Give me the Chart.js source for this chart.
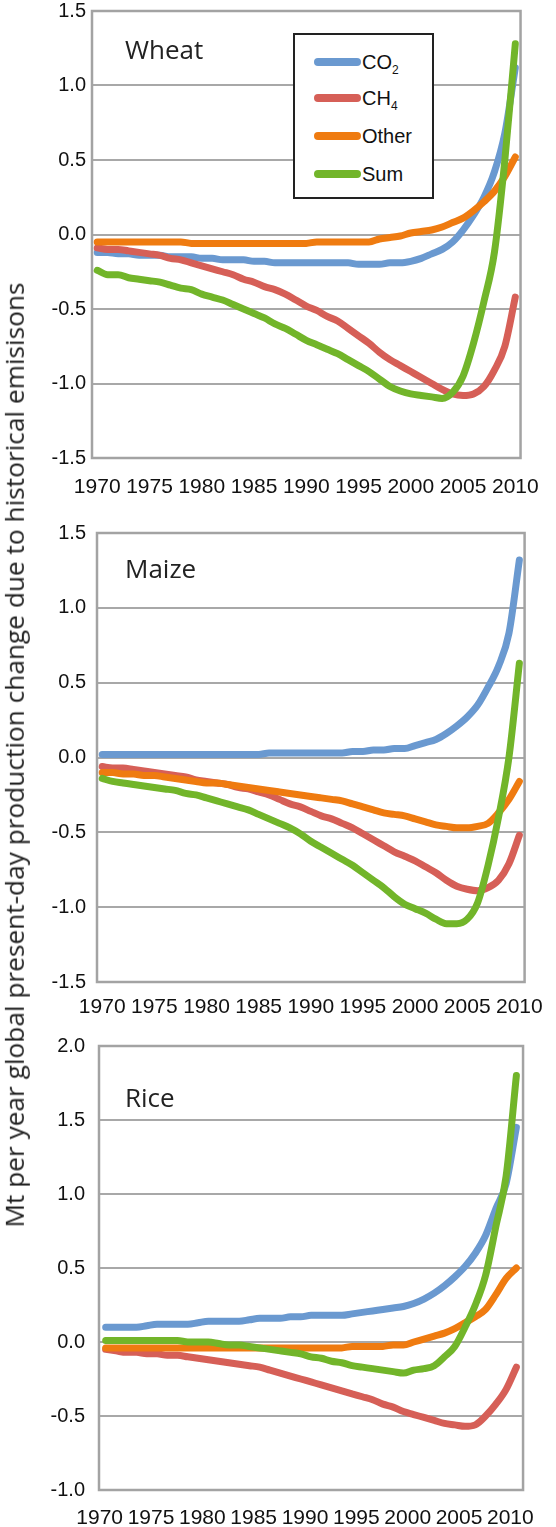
<!DOCTYPE html>
<html>
<head>
<meta charset="utf-8">
<script src="https://cdn.jsdelivr.net/npm/chart.js"></script>
<style>
  body { margin: 0; background: #fff; }
  #page { position: relative; width: 556px; height: 1527px; overflow: hidden; }
  canvas { position: absolute; left: 0; }
  .panel-title { position: absolute; left: 125px; font: 26px/26px "Open Sans", sans-serif; color: #222; white-space: nowrap; }
  #ytitle { position: absolute; left: 14px; top: 755px; font-family: "Open Sans", sans-serif; font-size: 24px; line-height: 24px;
            color: #222; white-space: nowrap; transform: translate(-50%, -50%) rotate(-90deg); }
  #legend { position: absolute; left: 293px; top: 33px; width: 137px; height: 162px; border: 2px solid #222; background: #fff; }
  #legend .swatch { position: absolute; left: 19px; width: 47px; height: 8px; border-radius: 4px; }
  #legend .label { position: absolute; left: 67px; font: 20px/24px "Liberation Sans", Arial, sans-serif; color: #111; }
  #legend sub { font-size: 12px; vertical-align: -5px; line-height: 0; }
</style>
</head>
<body>
<div id="page">
  <canvas id="wheat" width="556" height="520" style="top:-20px"></canvas>
  <canvas id="maize" width="556" height="520" style="top:500px"></canvas>
  <canvas id="rice" width="556" height="507" style="top:1020px"></canvas>

  <div class="panel-title" style="top:36px">Wheat</div>
  <div class="panel-title" style="top:555px">Maize</div>
  <div class="panel-title" style="top:1084px">Rice</div>

  <div id="ytitle">Mt per year global present-day production change due to historical emisisons</div>

  <div id="legend"></div>
</div>

<script>
const years = [1970, 1971, 1972, 1973, 1974, 1975, 1976, 1977, 1978, 1979,
               1980, 1981, 1982, 1983, 1984, 1985, 1986, 1987, 1988, 1989,
               1990, 1991, 1992, 1993, 1994, 1995, 1996, 1997, 1998, 1999,
               2000, 2001, 2002, 2003, 2004, 2005, 2006, 2007, 2008, 2009, 2010];
const xTickYears = [1970, 1975, 1980, 1985, 1990, 1995, 2000, 2005, 2010];

const seriesNames = ["CO2", "CH4", "Other", "Sum"];

// Wheat
const wheatCO2 = [-0.12, -0.12, -0.13, -0.13, -0.14, -0.14, -0.14, -0.15, -0.15, -0.15,
                  -0.16, -0.16, -0.17, -0.17, -0.17, -0.18, -0.18, -0.19, -0.19, -0.19,
                  -0.19, -0.19, -0.19, -0.19, -0.19, -0.20, -0.20, -0.20, -0.19, -0.19,
                  -0.18, -0.16, -0.13, -0.10, -0.05, 0.03, 0.13, 0.25, 0.42, 0.68, 1.12];
const wheatCH4 = [-0.09, -0.10, -0.10, -0.11, -0.12, -0.13, -0.14, -0.16, -0.17, -0.19,
                  -0.21, -0.23, -0.25, -0.27, -0.30, -0.32, -0.35, -0.37, -0.40, -0.44,
                  -0.48, -0.51, -0.55, -0.58, -0.63, -0.68, -0.73, -0.79, -0.84, -0.88,
                  -0.92, -0.96, -1.00, -1.04, -1.07, -1.08, -1.07, -1.02, -0.91, -0.75, -0.42];
const wheatOther = [-0.05, -0.05, -0.05, -0.05, -0.05, -0.05, -0.05, -0.05, -0.05, -0.06,
                    -0.06, -0.06, -0.06, -0.06, -0.06, -0.06, -0.06, -0.06, -0.06, -0.06,
                    -0.06, -0.05, -0.05, -0.05, -0.05, -0.05, -0.05, -0.03, -0.02, -0.01,
                    0.01, 0.02, 0.03, 0.05, 0.08, 0.11, 0.16, 0.22, 0.29, 0.39, 0.52];
const wheatSum = [-0.24, -0.27, -0.27, -0.29, -0.30, -0.31, -0.32, -0.34, -0.36, -0.37,
                  -0.40, -0.42, -0.44, -0.47, -0.50, -0.53, -0.56, -0.60, -0.63, -0.67,
                  -0.71, -0.74, -0.77, -0.80, -0.84, -0.88, -0.92, -0.97, -1.02, -1.05,
                  -1.07, -1.08, -1.09, -1.10, -1.06, -0.95, -0.73, -0.45, -0.12, 0.50, 1.28];

// Maize
const maizeCO2 = [0.02, 0.02, 0.02, 0.02, 0.02, 0.02, 0.02, 0.02, 0.02, 0.02,
                  0.02, 0.02, 0.02, 0.02, 0.02, 0.02, 0.03, 0.03, 0.03, 0.03,
                  0.03, 0.03, 0.03, 0.03, 0.04, 0.04, 0.05, 0.05, 0.06, 0.06,
                  0.08, 0.10, 0.12, 0.16, 0.21, 0.27, 0.35, 0.47, 0.61, 0.83, 1.32];
const maizeCH4 = [-0.06, -0.07, -0.07, -0.08, -0.09, -0.10, -0.11, -0.12, -0.13, -0.15,
                  -0.16, -0.17, -0.18, -0.20, -0.21, -0.23, -0.25, -0.28, -0.31, -0.33,
                  -0.36, -0.39, -0.41, -0.44, -0.47, -0.51, -0.55, -0.59, -0.63, -0.66,
                  -0.69, -0.73, -0.77, -0.82, -0.86, -0.88, -0.89, -0.87, -0.82, -0.71, -0.52];
const maizeOther = [-0.10, -0.10, -0.11, -0.11, -0.12, -0.12, -0.13, -0.14, -0.15, -0.16,
                    -0.17, -0.17, -0.18, -0.19, -0.20, -0.21, -0.22, -0.23, -0.24, -0.25,
                    -0.26, -0.27, -0.28, -0.29, -0.31, -0.33, -0.35, -0.37, -0.38, -0.39,
                    -0.41, -0.43, -0.45, -0.46, -0.47, -0.47, -0.46, -0.44, -0.37, -0.28, -0.16];
const maizeSum = [-0.14, -0.16, -0.17, -0.18, -0.19, -0.20, -0.21, -0.22, -0.24, -0.25,
                  -0.27, -0.29, -0.31, -0.33, -0.35, -0.38, -0.41, -0.44, -0.47, -0.51,
                  -0.56, -0.60, -0.64, -0.68, -0.72, -0.77, -0.82, -0.87, -0.93, -0.98,
                  -1.01, -1.04, -1.08, -1.11, -1.11, -1.08, -0.97, -0.72, -0.40, 0.00, 0.63];

// Rice
const riceCO2 = [0.10, 0.10, 0.10, 0.10, 0.11, 0.12, 0.12, 0.12, 0.12, 0.13,
                 0.14, 0.14, 0.14, 0.14, 0.15, 0.16, 0.16, 0.16, 0.17, 0.17,
                 0.18, 0.18, 0.18, 0.18, 0.19, 0.20, 0.21, 0.22, 0.23, 0.24,
                 0.26, 0.29, 0.33, 0.38, 0.44, 0.51, 0.60, 0.72, 0.90, 1.07, 1.45];
const riceCH4 = [-0.05, -0.06, -0.07, -0.07, -0.08, -0.08, -0.09, -0.09, -0.10, -0.11,
                 -0.12, -0.13, -0.14, -0.15, -0.16, -0.17, -0.19, -0.21, -0.23, -0.25,
                 -0.27, -0.29, -0.31, -0.33, -0.35, -0.37, -0.39, -0.42, -0.44, -0.47,
                 -0.49, -0.51, -0.53, -0.55, -0.56, -0.57, -0.56, -0.50, -0.42, -0.32, -0.17];
const riceOther = [-0.04, -0.04, -0.04, -0.04, -0.04, -0.04, -0.04, -0.04, -0.04, -0.04,
                   -0.04, -0.04, -0.04, -0.04, -0.04, -0.04, -0.04, -0.04, -0.04, -0.04,
                   -0.04, -0.04, -0.04, -0.04, -0.03, -0.03, -0.03, -0.03, -0.02, -0.02,
                   0.00, 0.02, 0.04, 0.06, 0.09, 0.13, 0.17, 0.22, 0.32, 0.43, 0.50];
const riceSum = [0.01, 0.01, 0.01, 0.01, 0.01, 0.01, 0.01, 0.01, 0.00, 0.00,
                 0.00, -0.01, -0.02, -0.02, -0.03, -0.04, -0.05, -0.06, -0.07, -0.08,
                 -0.10, -0.11, -0.13, -0.14, -0.16, -0.17, -0.18, -0.19, -0.20, -0.21,
                 -0.19, -0.18, -0.16, -0.10, -0.03, 0.10, 0.25, 0.45, 0.78, 1.12, 1.80];

const COLORS = {
  CO2: "#6a99d0",
  CH4: "#d65f57",
  Other: "#ef7b10",
  Sum: "#72b52a",
};
// draw order: Sum on top, CO2 at the bottom
const ORDER = { Sum: 0, Other: 1, CH4: 2, CO2: 3 };

const X_FONT = { family: "'Liberation Sans', Arial, sans-serif", size: 21 };
const Y_FONT = { family: "'Liberation Sans', Arial, sans-serif", size: 20 };

const framePlugin = {
  id: "frame",
  beforeDatasetsDraw(chart) {
    const { ctx, chartArea: a } = chart;
    ctx.save();
    ctx.strokeStyle = "#a3a3a3";
    ctx.lineWidth = 2.5;
    ctx.strokeRect(a.left, a.top, a.right - a.left, a.bottom - a.top);
    ctx.restore();
  },
};

function makePanel(id, values, opts) {
  const datasets = seriesNames.map((name, i) => ({
    label: name,
    data: years.map((yr, j) => ({ x: yr, y: values[i][j] })),
    borderColor: COLORS[name],
    borderWidth: 7,
    borderCapStyle: "round",
    borderJoinStyle: "round",
    pointRadius: 0,
    cubicInterpolationMode: "monotone",
    order: ORDER[name],
  }));

  return new Chart(document.getElementById(id), {
    type: "line",
    data: { datasets },
    plugins: [framePlugin],
    options: {
      responsive: false,
      animation: false,
      events: [],
      layout: { padding: { top: opts.padTop, right: opts.padRight, bottom: 0, left: 0 } },
      plugins: { legend: { display: false }, tooltip: { enabled: false } },
      scales: {
        x: {
          type: "linear",
          min: opts.xMin,
          max: opts.xMax,
          afterBuildTicks: (scale) => {
            scale.ticks = xTickYears.map((v) => ({ value: v }));
          },
          afterFit: (scale) => {
            scale.height = opts.xHeight;
          },
          grid: { display: false, drawTicks: false, tickLength: 0 },
          border: { display: false },
          ticks: {
            font: X_FONT,
            color: "#111",
            padding: opts.xPad,
            labelOffset: opts.xLabelOffset || 0,
            maxRotation: 0,
            autoSkip: false,
            callback: (v) => String(v),
          },
        },
        y: {
          min: opts.yMin,
          max: opts.yMax,
          afterFit: (scale) => {
            scale.width = opts.yWidth;
          },
          grid: { color: "#a8a8a8", lineWidth: 2, drawTicks: false, tickLength: 0 },
          border: { display: false },
          ticks: {
            stepSize: 0.5,
            font: Y_FONT,
            color: "#111",
            padding: opts.yPad,
            callback: (v) => Number(v).toFixed(1),
          },
        },
      },
    },
  });
}

makePanel("wheat", [wheatCO2, wheatCH4, wheatOther, wheatSum], {
  padTop: 31, padRight: 27, yWidth: 92, xHeight: 42, xPad: 17, yPad: 6,
  xMin: 1969.5, xMax: 2010.5, yMin: -1.5, yMax: 1.5,
});
makePanel("maize", [maizeCO2, maizeCH4, maizeOther, maizeSum], {
  padTop: 33, padRight: 22, yWidth: 97, xHeight: 38, xPad: 13, yPad: 11,
  xMin: 1969.5, xMax: 2010.5, yMin: -1.5, yMax: 1.5,
});
makePanel("rice", [riceCO2, riceCH4, riceOther, riceSum], {
  padTop: 23, padRight: 17, yWidth: 99, xHeight: 37, xPad: 16, yPad: 14,
  xMin: 1969.35, xMax: 2010.65, yMin: -1.0, yMax: 2.0, xLabelOffset: -6,
});

// legend (inside the wheat panel)
const legendRows = [
  { name: "CO2", html: "CO<sub>2</sub>", y: 27 },
  { name: "CH4", html: "CH<sub>4</sub>", y: 63 },
  { name: "Other", html: "Other", y: 101 },
  { name: "Sum", html: "Sum", y: 139 },
];
const legendEl = document.getElementById("legend");
legendRows.forEach((row) => {
  const sw = document.createElement("div");
  sw.className = "swatch";
  sw.style.top = row.y - 4 + "px";
  sw.style.background = COLORS[row.name];
  legendEl.appendChild(sw);
  const lab = document.createElement("div");
  lab.className = "label";
  lab.style.top = row.y - 12 + "px";
  lab.innerHTML = row.html;
  legendEl.appendChild(lab);
});

// fit the rotated axis title to the span it has in the original
const ytitle = document.getElementById("ytitle");
const w = ytitle.getBoundingClientRect().height;
if (w > 0) {
  const size = 24 * 945 / w;
  ytitle.style.fontSize = size.toFixed(2) + "px";
  ytitle.style.lineHeight = size.toFixed(2) + "px";
}
</script>
</body>
</html>
